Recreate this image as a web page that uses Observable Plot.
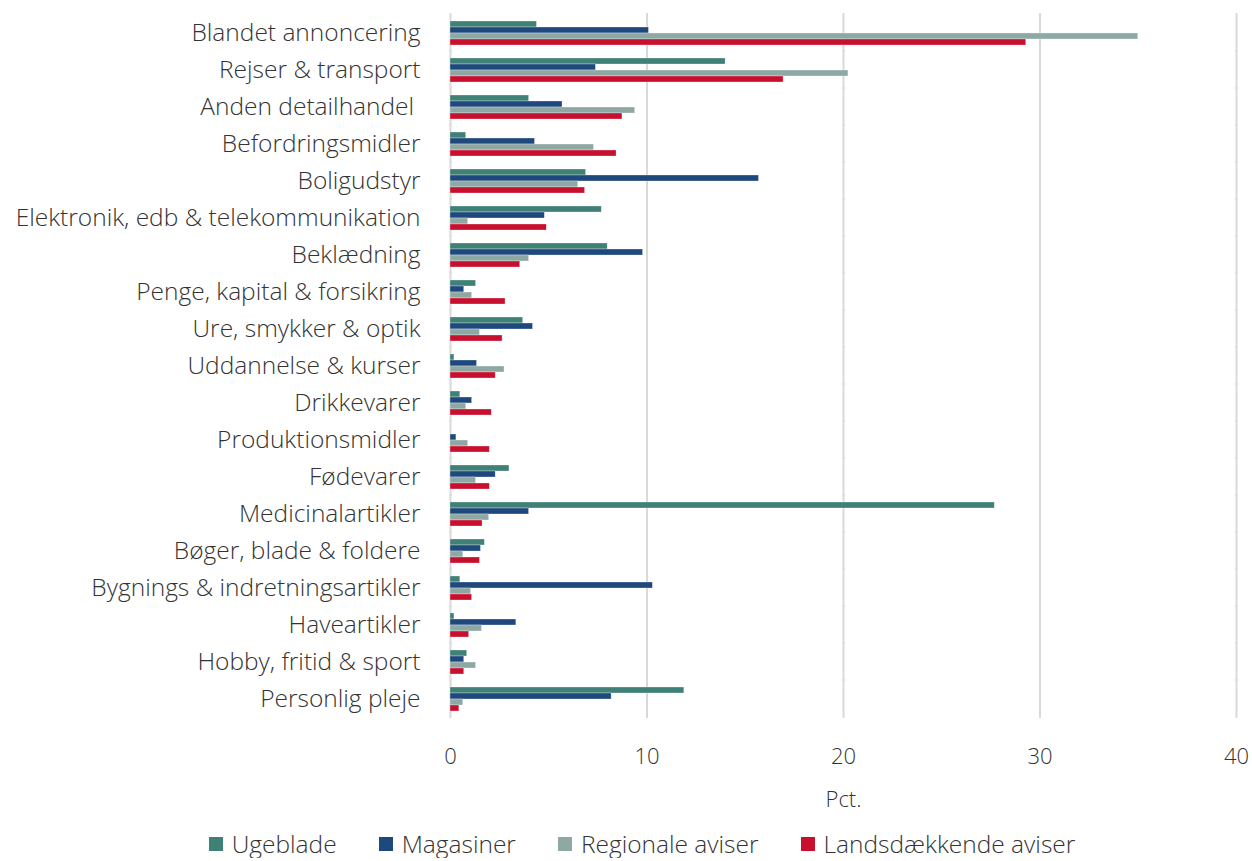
<!DOCTYPE html>
<html>
<head>
<meta charset="utf-8">
<script src="https://cdn.jsdelivr.net/npm/d3@7"></script>
<script src="https://cdn.jsdelivr.net/npm/@observablehq/plot@0.6"></script>
<style>
  html, body { margin: 0; padding: 0; background: #fff; }
  body { width: 1252px; font-family: "Open Sans", sans-serif; font-weight: 300; color: #333; overflow: hidden; }
  #legend { display: flex; justify-content: center; align-items: center; gap: 42px; padding-left: 32px; margin-top: 12px; font-size: 24.5px; font-weight: 300; line-height: 28px; height: 28px; }
  #legend .item { display: flex; align-items: center; gap: 9px; }
  #legend .sw { width: 14px; height: 14px; display: inline-block; }
</style>
</head>
<body>
<div id="chart"></div>
<div id="legend"></div>
<script>
const categories = [
  "Blandet annoncering", "Rejser & transport", "Anden detailhandel\u00a0", "Befordringsmidler",
  "Boligudstyr", "Elektronik, edb & telekommunikation", "Beklædning", "Penge, kapital & forsikring",
  "Ure, smykker & optik", "Uddannelse & kurser", "Drikkevarer", "Produktionsmidler",
  "Fødevarer", "Medicinalartikler", "Bøger, blade & foldere", "Bygnings & indretningsartikler",
  "Haveartikler", "Hobby, fritid & sport", "Personlig pleje"
];
const seriesNames = ["Ugeblade", "Magasiner", "Regionale aviser", "Landsdækkende aviser"];
const ugeblade =       [4.4, 14.0, 4.0, 0.8, 6.9, 7.7, 8.0, 1.3, 3.7, 0.2, 0.5, 0.0, 3.0, 27.7, 1.75, 0.5, 0.2, 0.85, 11.9];
const magasiner =      [10.1, 7.4, 5.7, 4.3, 15.7, 4.8, 9.8, 0.7, 4.2, 1.35, 1.1, 0.3, 2.3, 4.0, 1.55, 10.3, 3.35, 0.7, 8.2];
const regionale =      [35.0, 20.25, 9.4, 7.3, 6.5, 0.9, 4.0, 1.1, 1.5, 2.75, 0.8, 0.9, 1.3, 1.97, 0.65, 1.05, 1.6, 1.3, 0.65];
const landsdaekkende = [29.3, 16.95, 8.75, 8.45, 6.85, 4.9, 3.55, 2.8, 2.65, 2.3, 2.1, 2.0, 2.0, 1.63, 1.5, 1.1, 0.95, 0.7, 0.45];
const colors = ["#3f8077", "#1f497d", "#8ea9a4", "#c8102e"];
const xTicks = [0, 10, 20, 30, 40];

const seriesValues = [ugeblade, magasiner, regionale, landsdaekkende];
const rows = [];
categories.forEach((c, i) => {
  seriesNames.forEach((s, j) => {
    rows.push({category: c, series: s, value: seriesValues[j][i]});
  });
});
const gridRows = categories.flatMap(c => xTicks.map(t => ({category: c, tick: t})));

const fontFamily = '"Open Sans", sans-serif';

const chart = Plot.plot({
  width: 1252,
  height: 818,
  marginLeft: 450,
  marginRight: 16,
  marginTop: 11,
  marginBottom: 99,
  style: {fontFamily, fontWeight: 300, color: "#333", background: "#fff", overflow: "visible"},
  x: {domain: [0, 40], ticks: xTicks, tickSize: 0, tickPadding: 37,
      label: "Pct.", labelAnchor: "center", labelArrow: "none", labelOffset: 95},
  y: {domain: seriesNames, padding: 0, axis: null},
  fy: {domain: categories, paddingInner: 0.33, paddingOuter: 0.165, label: null, tickSize: 0, tickPadding: 30},
  color: {domain: seriesNames, range: colors},
  marks: [
    Plot.ruleX(gridRows, {x: "tick", fy: "category", stroke: "#d9d9d9", strokeWidth: 2, insetTop: -7, insetBottom: -7}),
    Plot.barX(rows.filter(d => d.value > 0), {x: "value", y: "series", fy: "category", fill: "series",
      stroke: "#ffffff", strokeOpacity: 0.5, strokeWidth: 0.6})
  ]
});

chart.querySelectorAll('g[aria-label="fy-axis tick label"]').forEach(el => {
  el.setAttribute("font-size", "24.5");
  el.style.fontSize = "24.5px";
});
chart.querySelectorAll('g[aria-label="x-axis tick label"], g[aria-label="x-axis label"]').forEach(el => {
  el.setAttribute("font-size", "22");
  el.style.fontSize = "22px";
});

document.getElementById("chart").appendChild(chart);

const legend = document.getElementById("legend");
seriesNames.forEach((s, i) => {
  const item = document.createElement("div");
  item.className = "item";
  const sw = document.createElement("span");
  sw.className = "sw";
  sw.style.background = colors[i];
  const label = document.createElement("span");
  label.textContent = s;
  item.appendChild(sw);
  item.appendChild(label);
  legend.appendChild(item);
});
</script>
</body>
</html>
